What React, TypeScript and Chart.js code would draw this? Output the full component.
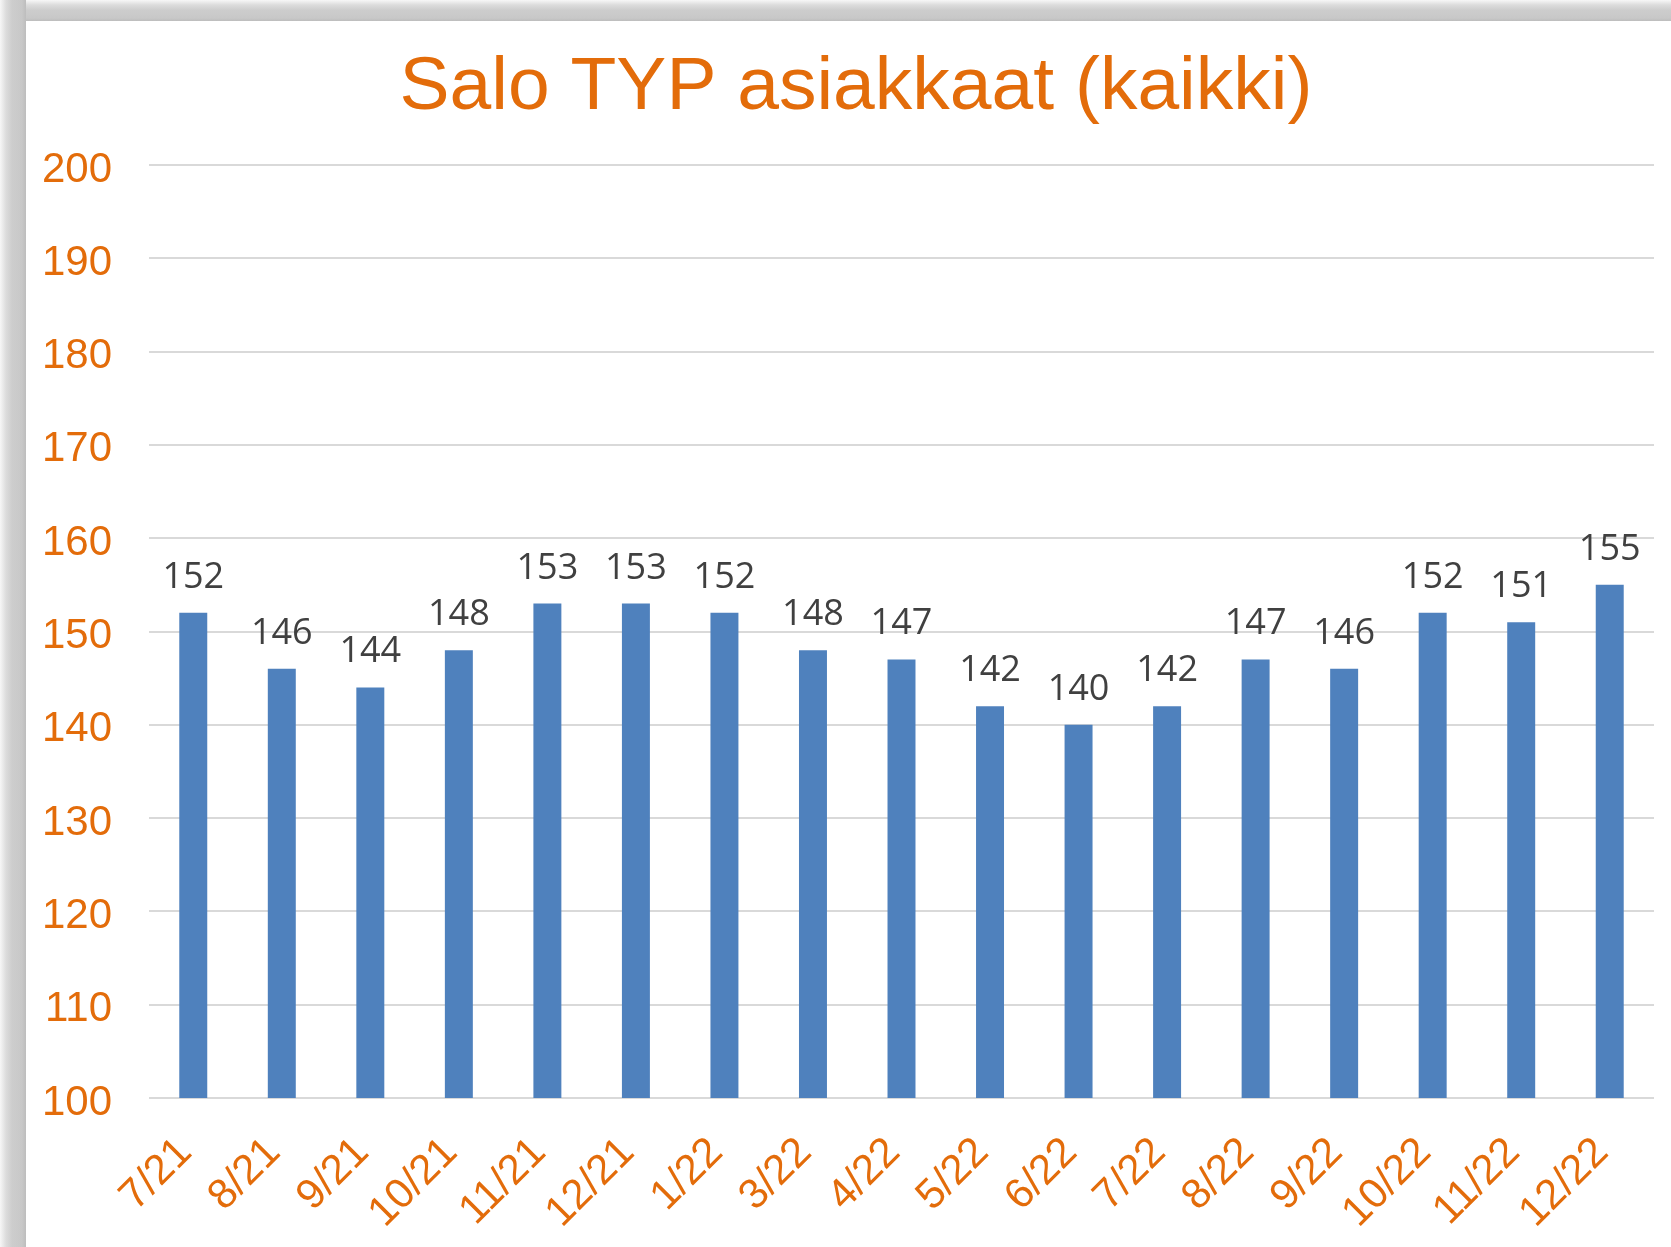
import React, { useEffect, useRef } from "react";
import { Chart, registerables } from "chart.js";

Chart.register(...registerables);

const TITLE = "Salo TYP asiakkaat (kaikki)";
const categories = [
  "7/21", "8/21", "9/21", "10/21", "11/21", "12/21", "1/22", "3/22", "4/22",
  "5/22", "6/22", "7/22", "8/22", "9/22", "10/22", "11/22", "12/22",
];
const values = [152, 146, 144, 148, 153, 153, 152, 148, 147, 142, 140, 142, 147, 146, 152, 151, 155];
const yMin = 100;
const yMax = 200;
const yStep = 10;

const ORANGE = "#E36C0A";
const BAR = "#4F81BD";
const LABEL = "#404040";

const barLabels = {
  id: "barLabels",
  afterDatasetsDraw(chart: any) {
    const ctx = chart.ctx;
    const meta = chart.getDatasetMeta(0);
    ctx.save();
    ctx.font = '36px "Open Sans"';
    ctx.fillStyle = LABEL;
    ctx.textAlign = "center";
    ctx.textBaseline = "alphabetic";
    meta.data.forEach((bar: any, i: number) => {
      ctx.fillText(String(values[i]), bar.x, bar.y - 25);
    });
    ctx.restore();
  },
};

export default function App() {
  const ref = useRef<HTMLCanvasElement | null>(null);

  useEffect(() => {
    if (!ref.current) return;
    const chart = new Chart(ref.current, {
      type: "bar",
      data: {
        labels: categories,
        datasets: [
          {
            data: values,
            backgroundColor: BAR,
            borderWidth: 0,
            categoryPercentage: 1,
            barPercentage: 0.316,
          },
        ],
      },
      options: {
        animation: false,
        responsive: false,
        devicePixelRatio: 1,
        layout: { padding: { left: 26, right: 0, top: 0, bottom: 0 } },
        plugins: {
          legend: { display: false },
          tooltip: { enabled: false },
          title: {
            display: true,
            text: TITLE,
            color: ORANGE,
            font: { family: '"Liberation Sans", Arial, sans-serif', size: 75, weight: "normal" },
            padding: { top: 43, bottom: 32 },
          },
        },
        scales: {
          x: {
            grid: { display: false },
            border: { display: false },
            ticks: {
              color: ORANGE,
              font: { family: '"Liberation Sans", Arial, sans-serif', size: 42 },
              minRotation: 45,
              maxRotation: 45,
              autoSkip: false,
              padding: 22,
              labelOffset: -8,
            },
            afterFit: (s: any) => {
              s.height = 149;
            },
          },
          y: {
            min: yMin,
            max: yMax,
            border: { display: false },
            grid: { color: "#d9d9d9", lineWidth: 2, drawTicks: false },
            ticks: {
              stepSize: yStep,
              color: ORANGE,
              font: { family: '"Liberation Sans", Arial, sans-serif', size: 42 },
              padding: 37,
              labelOffset: 5,
            },
            afterFit: (s: any) => {
              s.width = 123;
            },
          },
          yRight: {
            position: "right",
            display: true,
            grid: { display: false },
            border: { display: false },
            ticks: { display: false },
            afterFit: (s: any) => {
              s.width = 32;
            },
          },
        },
      },
      plugins: [barLabels],
    });
    return () => chart.destroy();
  }, []);

  const bandTop =
    "linear-gradient(to bottom, #f7f7f7 0px, #dcdcdc 5px, #cdcdcd 10px, #c8c8c8 18px, #bdbdbd 21px)";
  const bandLeft =
    "linear-gradient(to right, #f7f7f7 0px, #dcdcdc 6px, #cdcdcd 12px, #c8c8c8 22px, #bdbdbd 26px)";

  return (
    <div
      style={{
        position: "absolute",
        left: 0,
        top: 0,
        width: 1671,
        height: 1247,
        overflow: "hidden",
        background: "#ffffff",
      }}
    >
      <canvas ref={ref} width={1686} height={1247} style={{ position: "absolute", left: 0, top: 0 }} />
      <div style={{ position: "absolute", left: 0, top: 0, width: 1671, height: 21, background: bandTop }} />
      <div style={{ position: "absolute", left: 0, top: 0, width: 26, height: 1247, background: bandLeft }} />
    </div>
  );
}
